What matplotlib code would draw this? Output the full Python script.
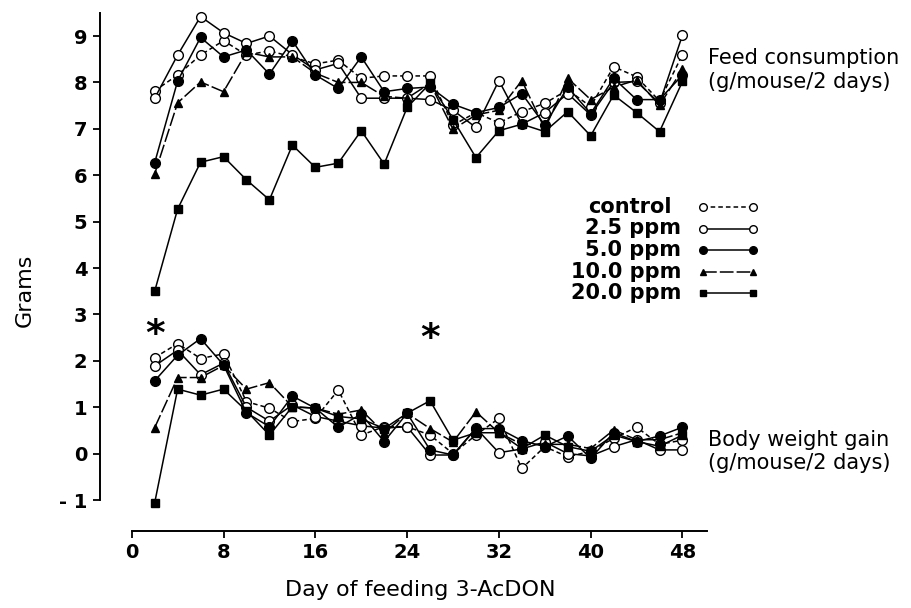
import numpy as np
import matplotlib
matplotlib.use("Agg")
import matplotlib.pyplot as plt
from matplotlib.lines import Line2D

days = np.arange(2, 49, 2)

# feed consumption (g/mouse/2 days)
feed_control = [7.82, 8.16, 8.59, 8.90, 8.59, 8.68, 8.55, 8.40, 8.48, 8.09, 8.14, 8.14,
                8.14, 7.08, 7.35, 7.13, 7.37, 7.55, 7.84, 7.48, 8.34, 8.12, 7.60, 8.60]
feed_25 = [7.66, 8.59, 9.42, 9.07, 8.84, 9.00, 8.60, 8.27, 8.41, 7.66, 7.66, 7.66,
           7.63, 7.40, 7.03, 8.04, 7.10, 7.35, 7.76, 7.30, 8.00, 8.02, 7.55, 9.02]
feed_50 = [6.27, 8.03, 8.97, 8.55, 8.70, 8.18, 8.90, 8.16, 7.87, 8.55, 7.80, 7.87,
           7.90, 7.53, 7.35, 7.46, 7.76, 7.08, 7.90, 7.33, 8.09, 7.63, 7.63, 8.16]
feed_100 = [6.03, 7.56, 8.01, 7.80, 8.65, 8.55, 8.55, 8.20, 8.00, 8.00, 7.70, 7.66,
            7.98, 6.99, 7.30, 7.40, 8.04, 7.00, 8.09, 7.63, 7.90, 8.05, 7.51, 8.28]
feed_200 = [3.50, 5.27, 6.28, 6.40, 5.90, 5.47, 6.65, 6.17, 6.26, 6.96, 6.24, 7.46,
            7.98, 7.20, 6.38, 6.96, 7.10, 6.94, 7.37, 6.85, 7.73, 7.35, 6.94, 8.02]

# body weight gain (g/mouse/2 days)
gain_control = [2.07, 2.37, 2.05, 2.15, 1.12, 0.98, 0.69, 0.76, 1.37, 0.40, 0.58, 0.58,
                0.40, 0.00, 0.40, 0.76, -0.32, 0.15, -0.07, 0.05, 0.33, 0.57, 0.20, 0.29]
gain_25 = [1.89, 2.23, 1.70, 1.95, 1.00, 0.70, 1.05, 0.80, 0.70, 0.60, 0.55, 0.58,
           -0.03, -0.03, 0.55, 0.02, 0.10, 0.25, 0.00, -0.05, 0.15, 0.30, 0.08, 0.08]
gain_50 = [1.57, 2.12, 2.48, 1.91, 0.88, 0.58, 1.24, 0.98, 0.57, 0.85, 0.26, 0.87,
           0.08, -0.03, 0.54, 0.54, 0.28, 0.15, 0.38, -0.10, 0.45, 0.26, 0.38, 0.57]
gain_100 = [0.56, 1.64, 1.64, 1.90, 1.39, 1.53, 1.01, 0.98, 0.85, 0.94, 0.45, 0.87,
            0.54, 0.25, 0.90, 0.45, 0.20, 0.20, 0.20, 0.11, 0.51, 0.30, 0.30, 0.45]
gain_200 = [-1.06, 1.39, 1.26, 1.39, 0.92, 0.40, 1.01, 0.98, 0.80, 0.75, 0.54, 0.87,
            1.14, 0.29, 0.45, 0.45, 0.11, 0.40, 0.15, 0.05, 0.40, 0.26, 0.16, 0.40]

labels = ["control", "2.5 ppm", "5.0 ppm", "10.0 ppm", "20.0 ppm"]
feed = [feed_control, feed_25, feed_50, feed_100, feed_200]
gain = [gain_control, gain_25, gain_50, gain_100, gain_200]

# style per group: marker, face colour, size, linestyle
styles = [
    dict(marker="o", mfc="white", ms=7, ls=(0, (3, 2))),
    dict(marker="o", mfc="white", ms=7, ls="-"),
    dict(marker="o", mfc="black", ms=7, ls="-"),
    dict(marker="^", mfc="black", ms=6, ls=(0, (9, 2))),
    dict(marker="s", mfc="black", ms=6, ls="-"),
]

fig = plt.figure(figsize=(9.11, 6.08), dpi=100)
ax = fig.add_axes([0.1446, 0.1776, 0.631, 0.8013])

for vals_f, vals_g, st in zip(feed, gain, styles):
    for vals in (vals_f, vals_g):
        ax.plot(days, vals, color="black", lw=1.1, ls=st["ls"], marker=st["marker"],
                mfc=st["mfc"], mec="black", mew=1.0, ms=st["ms"], clip_on=False)

# significance marks
ax.text(2, 2.56, "*", fontsize=27, ha="center", va="center", fontweight="bold")
ax.text(26, 2.47, "*", fontsize=27, ha="center", va="center", fontweight="bold")

ax.set_xlim(0, 50.1)
ax.set_ylim(-1, 9.5)
ax.set_xticks(np.arange(0, 49, 8))
ax.set_yticks(np.arange(-1, 10, 1))
ax.set_yticklabels(["- 1"] + [str(v) for v in range(0, 10)])
ax.spines["top"].set_visible(False)
ax.spines["right"].set_visible(False)
ax.spines["left"].set_position(("outward", 23))
ax.spines["bottom"].set_position(("outward", 22))
ax.spines["left"].set_linewidth(1.4)
ax.spines["bottom"].set_linewidth(1.4)
ax.tick_params(direction="out", length=5, width=1.3, labelsize=14, pad=4)
for lab in ax.get_xticklabels() + ax.get_yticklabels():
    lab.set_fontweight("bold")

fig.text(0.027, 0.523, "Grams", rotation=90, ha="center", va="center", fontsize=16)
fig.text(0.461, 0.03, "Day of feeding 3-AcDON", ha="center", va="center", fontsize=16)

fig.text(0.777, 0.885, "Feed consumption\n(g/mouse/2 days)", ha="left", va="center",
         fontsize=15, linespacing=1.2)
fig.text(0.777, 0.258, "Body weight gain\n(g/mouse/2 days)", ha="left", va="center",
         fontsize=15, linespacing=1.2)

# hand-drawn legend
row_y = [207, 228.5, 250, 271.5, 293]
for i, (lab, st) in enumerate(zip(labels, styles)):
    yf = 1 - row_y[i] / 608
    if i == 0:
        fig.text(588 / 911, yf, lab, ha="left", va="center", fontsize=15, fontweight="bold")
    else:
        fig.text(681 / 911, yf, lab, ha="right", va="center", fontsize=15, fontweight="bold")
    fig.add_artist(Line2D([703 / 911, 753 / 911], [yf, yf], color="black", lw=1.1,
                          ls=st["ls"], marker=st["marker"], mfc=st["mfc"], mec="black",
                          mew=1.0, ms=st["ms"] - 1.5))

fig.savefig("out.png", dpi=100)
